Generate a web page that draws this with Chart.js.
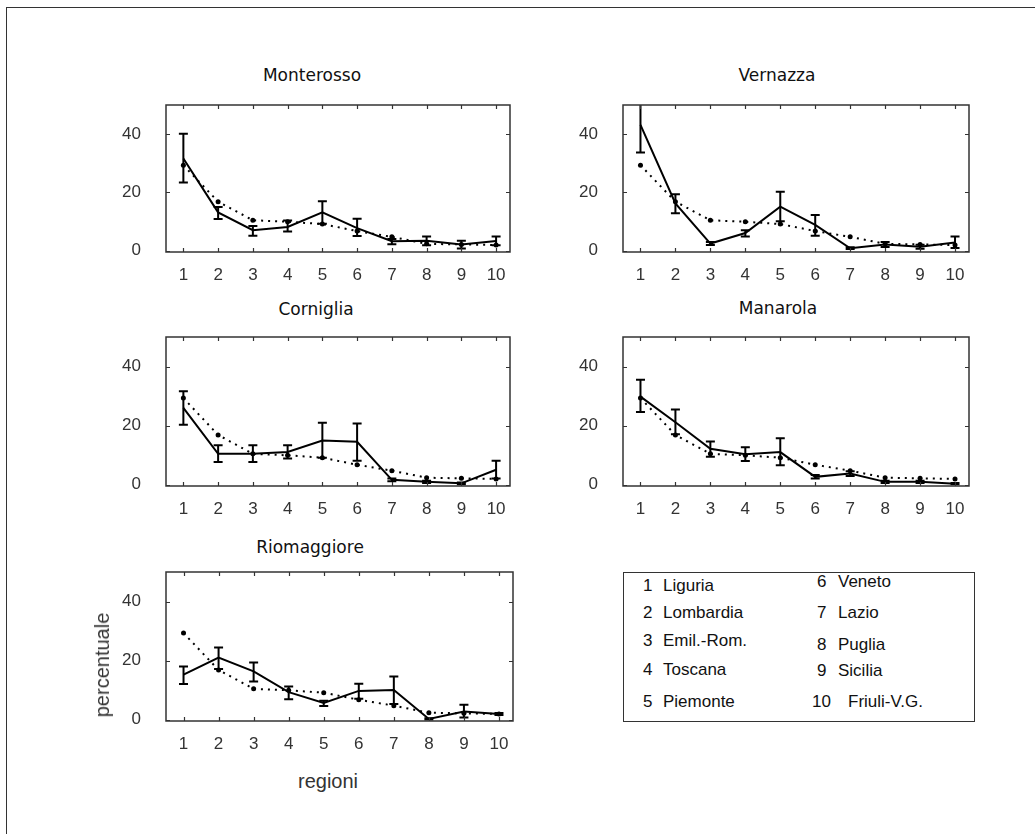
<!DOCTYPE html>
<html lang="it">
<head>
<meta charset="utf-8">
<title>Provenienza dei visitatori - Cinque Terre</title>
<script src="https://cdn.jsdelivr.net/npm/chart.js@4.4.1/dist/chart.umd.min.js"></script>
<style>
    html, body { margin: 0; padding: 0; background: #fff; }
    body { width: 1035px; height: 834px; position: relative; overflow: hidden; }
    .cornice { position: absolute; left: 6px; top: 7px; width: 1200px; height: 1000px;
               border-left: 1px solid #333; border-top: 1px solid #333; }
    .pannello { position: absolute; }
    .titolo { position: absolute; font-family: "DejaVu Sans", sans-serif; font-size: 17px;
              line-height: 20px; color: #111; white-space: nowrap; transform: translateX(-50%); }
    .etichetta { position: absolute; font-family: "Liberation Sans", Arial, sans-serif; font-size: 20px;
                 line-height: 24px; color: #333; white-space: nowrap; }
    .legenda { position: absolute; border: 1.5px solid #333; box-sizing: border-box; }
    .voce { position: absolute; font-family: "Liberation Sans", Arial, sans-serif; font-size: 17px;
            line-height: 20px; color: #111; white-space: nowrap; }
</style>
</head>
<body>
<div class="cornice"></div>
<div id="grafici"></div>
<div class="etichetta" style="left:102px; top:665px; transform: translate(-50%, -50%) rotate(-90deg);">percentuale</div>
<div class="etichetta" style="left:328px; top:769px; transform: translateX(-50%);">regioni</div>
<div class="legenda" style="left:623px; top:572px; width:352px; height:150px;"></div>
<div id="voci"></div>

<script>
// Regioni di provenienza (asse x)
const regioni = [1, 2, 3, 4, 5, 6, 7, 8, 9, 10];
const nomiRegioni = ['Liguria', 'Lombardia', 'Emil.-Rom.', 'Toscana', 'Piemonte',
                     'Veneto', 'Lazio', 'Puglia', 'Sicilia', 'Friuli-V.G.'];
const tickY = [0, 20, 40];

// Media complessiva (linea punteggiata, uguale in tutti i pannelli)
const mediaGenerale = [29.3, 16.8, 10.4, 9.9, 9.1, 6.7, 4.7, 2.3, 2.1, 1.9];

// Percentuali per borgo con estremi delle barre d'errore
const monterosso      = [31.6, 13.1, 7.0, 8.1, 13.1, 7.7, 3.2, 3.4, 2.1, 3.3];
const monterossoBasso = [23.4, 10.8, 5.1, 6.5, 9.2, 5.0, 2.2, 1.8, 0.7, 1.8];
const monterossoAlto  = [40.1, 15.0, 8.4, 10.3, 16.9, 10.9, 4.0, 4.8, 3.4, 4.8];

const vernazza      = [43.2, 16.2, 2.4, 6.0, 15.1, 8.8, 0.8, 2.1, 1.3, 2.8];
const vernazzaBasso = [33.7, 12.8, 1.9, 4.8, 10.1, 5.1, 0.5, 1.2, 0.6, 0.9];
const vernazzaAlto  = [52.5, 19.3, 2.9, 7.0, 20.2, 12.2, 1.1, 2.9, 2.0, 4.8];

const corniglia      = [26.0, 10.4, 10.4, 11.0, 14.9, 14.5, 1.6, 0.9, 0.4, 5.0];
const cornigliaBasso = [20.3, 7.6, 7.6, 8.8, 9.1, 8.1, 1.1, 0.5, 0.1, 2.0];
const cornigliaAlto  = [31.6, 13.3, 13.3, 13.3, 20.9, 20.7, 2.0, 1.3, 0.7, 8.1];

const manarola      = [29.8, 21.1, 12.1, 10.3, 11.0, 2.6, 3.7, 0.9, 0.9, 0.3];
const manarolaBasso = [24.6, 17.0, 9.4, 8.0, 6.5, 2.0, 2.9, 0.5, 0.5, 0.1];
const manarolaAlto  = [35.5, 25.4, 14.6, 12.6, 15.7, 3.2, 4.5, 1.3, 1.3, 0.5];

const riomaggiore      = [15.2, 21.0, 16.3, 9.3, 5.6, 9.7, 10.0, 0.2, 2.7, 1.9];
const riomaggioreBasso = [12.0, 17.1, 12.9, 6.9, 4.6, 7.0, 5.3, 0.0, 0.7, 1.5];
const riomaggioreAlto  = [18.0, 24.4, 19.3, 11.2, 6.4, 12.1, 14.6, 0.4, 5.0, 2.2];

const borghi = [
    { nome: 'Monterosso',  valori: monterosso,  basso: monterossoBasso,  alto: monterossoAlto },
    { nome: 'Vernazza',    valori: vernazza,    basso: vernazzaBasso,    alto: vernazzaAlto },
    { nome: 'Corniglia',   valori: corniglia,   basso: cornigliaBasso,   alto: cornigliaAlto },
    { nome: 'Manarola',    valori: manarola,    basso: manarolaBasso,    alto: manarolaAlto },
    { nome: 'Riomaggiore', valori: riomaggiore, basso: riomaggioreBasso, alto: riomaggioreAlto }
];

// Posizione dei pannelli (area del grafico) e dei titoli
const riquadri = [
    { l: 166, t: 105, r: 510, b: 252, tx: 312, ty: 65 },
    { l: 623, t: 105, r: 969, b: 252, tx: 777, ty: 65 },
    { l: 166, t: 337, r: 510, b: 486, tx: 316, ty: 299 },
    { l: 623, t: 337, r: 969, b: 486, tx: 778, ty: 298 },
    { l: 166, t: 572, r: 513, b: 721, tx: 310, ty: 537 }
];
const SX = 70, SU = 10, DX = 12, GIU = 40;

// Riquadro con tacche interne su tutti i lati
const cornicePlugin = {
    id: 'cornice',
    afterDraw(chart) {
        const { ctx, chartArea: a, scales: { x, y } } = chart;
        ctx.save();
        ctx.strokeStyle = '#333';
        ctx.lineWidth = 1.5;
        ctx.strokeRect(a.left, a.top, a.right - a.left, a.bottom - a.top);
        ctx.beginPath();
        regioni.forEach(v => {
            const px = Math.round(x.getPixelForValue(v)) + 0.5;
            ctx.moveTo(px, a.bottom); ctx.lineTo(px, a.bottom - 4);
            ctx.moveTo(px, a.top); ctx.lineTo(px, a.top + 4);
        });
        tickY.forEach(v => {
            const py = Math.round(y.getPixelForValue(v)) + 0.5;
            ctx.moveTo(a.left, py); ctx.lineTo(a.left + 4, py);
            ctx.moveTo(a.right, py); ctx.lineTo(a.right - 4, py);
        });
        ctx.lineWidth = 1.2;
        ctx.stroke();
        ctx.restore();
    }
};

// Barre d'errore verticali con stanghette
const erroriPlugin = {
    id: 'errori',
    afterDatasetsDraw(chart, args, opts) {
        const { ctx, chartArea: a, scales: { x, y } } = chart;
        ctx.save();
        ctx.beginPath();
        ctx.rect(a.left, a.top, a.right - a.left, a.bottom - a.top);
        ctx.clip();
        ctx.strokeStyle = '#000';
        ctx.lineWidth = 2;
        ctx.beginPath();
        opts.basso.forEach((lo, i) => {
            const px = x.getPixelForValue(regioni[i]);
            const y1 = y.getPixelForValue(lo);
            const y2 = y.getPixelForValue(opts.alto[i]);
            ctx.moveTo(px, y1); ctx.lineTo(px, y2);
            ctx.moveTo(px - 4.5, y1); ctx.lineTo(px + 4.5, y1);
            ctx.moveTo(px - 4.5, y2); ctx.lineTo(px + 4.5, y2);
        });
        ctx.stroke();
        ctx.restore();
    }
};

const contenitore = document.getElementById('grafici');

borghi.forEach((borgo, k) => {
    const q = riquadri[k];
    const box = document.createElement('div');
    box.className = 'pannello';
    box.style.left = (q.l - SX) + 'px';
    box.style.top = (q.t - SU) + 'px';
    box.style.width = (q.r - q.l + SX + DX) + 'px';
    box.style.height = (q.b - q.t + SU + GIU) + 'px';
    const canvas = document.createElement('canvas');
    box.appendChild(canvas);
    contenitore.appendChild(box);

    const titolo = document.createElement('div');
    titolo.className = 'titolo';
    titolo.textContent = borgo.nome;
    titolo.style.left = q.tx + 'px';
    titolo.style.top = q.ty + 'px';
    document.body.appendChild(titolo);

    new Chart(canvas, {
        type: 'line',
        data: {
            datasets: [{
                label: borgo.nome,
                data: regioni.map((r, i) => ({ x: r, y: borgo.valori[i] })),
                borderColor: '#000',
                borderWidth: 2,
                pointRadius: 0,
                tension: 0,
                fill: false
            }, {
                label: 'media',
                data: regioni.map((r, i) => ({ x: r, y: mediaGenerale[i] })),
                borderColor: '#000',
                borderWidth: 2,
                borderDash: [2, 5],
                pointRadius: 2.5,
                pointBackgroundColor: '#000',
                pointBorderWidth: 0,
                tension: 0,
                fill: false
            }]
        },
        options: {
            responsive: true,
            maintainAspectRatio: false,
            animation: false,
            events: [],
            layout: { padding: { left: 0, top: SU, right: DX, bottom: 0 } },
            plugins: {
                legend: { display: false },
                title: { display: false },
                tooltip: { enabled: false },
                errori: { basso: borgo.basso, alto: borgo.alto }
            },
            scales: {
                x: {
                    type: 'linear',
                    min: 0.5,
                    max: 10.4,
                    grid: { display: false },
                    border: { display: false },
                    afterBuildTicks: s => { s.ticks = regioni.map(v => ({ value: v })); },
                    afterFit: s => {
                        s.height = GIU;
                        s.paddingLeft = 0; s.paddingRight = 0;
                    },
                    ticks: {
                        padding: 5,
                        color: '#333',
                        font: { family: 'Liberation Sans', size: 17 },
                        maxRotation: 0,
                        autoSkip: false
                    }
                },
                y: {
                    min: -0.5,
                    max: 50,
                    grid: { display: false },
                    border: { display: false },
                    afterBuildTicks: s => { s.ticks = tickY.map(v => ({ value: v })); },
                    afterFit: s => {
                        s.width = SX;
                        s.paddingTop = 0; s.paddingBottom = 0;
                    },
                    ticks: {
                        padding: 17,
                        color: '#333',
                        font: { family: 'Liberation Sans', size: 17 }
                    }
                }
            }
        },
        plugins: [erroriPlugin, cornicePlugin]
    });
});

// Legenda con numero e nome della regione
const colonneNumero = [643, 817];
const colonneNome = [663, 838];
const lineeBase = [[592, 619, 647, 676, 708], [588, 619, 651, 677, 708]];
const voci = document.getElementById('voci');
nomiRegioni.forEach((nome, i) => {
    const col = i < 5 ? 0 : 1;
    const riga = i % 5;
    const top = lineeBase[col][riga] - 16;
    const num = document.createElement('div');
    num.className = 'voce';
    num.textContent = regioni[i];
    num.style.left = (regioni[i] === 10 ? colonneNumero[col] - 5 : colonneNumero[col]) + 'px';
    num.style.top = top + 'px';
    const txt = document.createElement('div');
    txt.className = 'voce';
    txt.textContent = nome;
    txt.style.left = (regioni[i] === 10 ? colonneNome[col] + 10 : colonneNome[col]) + 'px';
    txt.style.top = top + 'px';
    voci.appendChild(num);
    voci.appendChild(txt);
});
</script>
</body>
</html>
